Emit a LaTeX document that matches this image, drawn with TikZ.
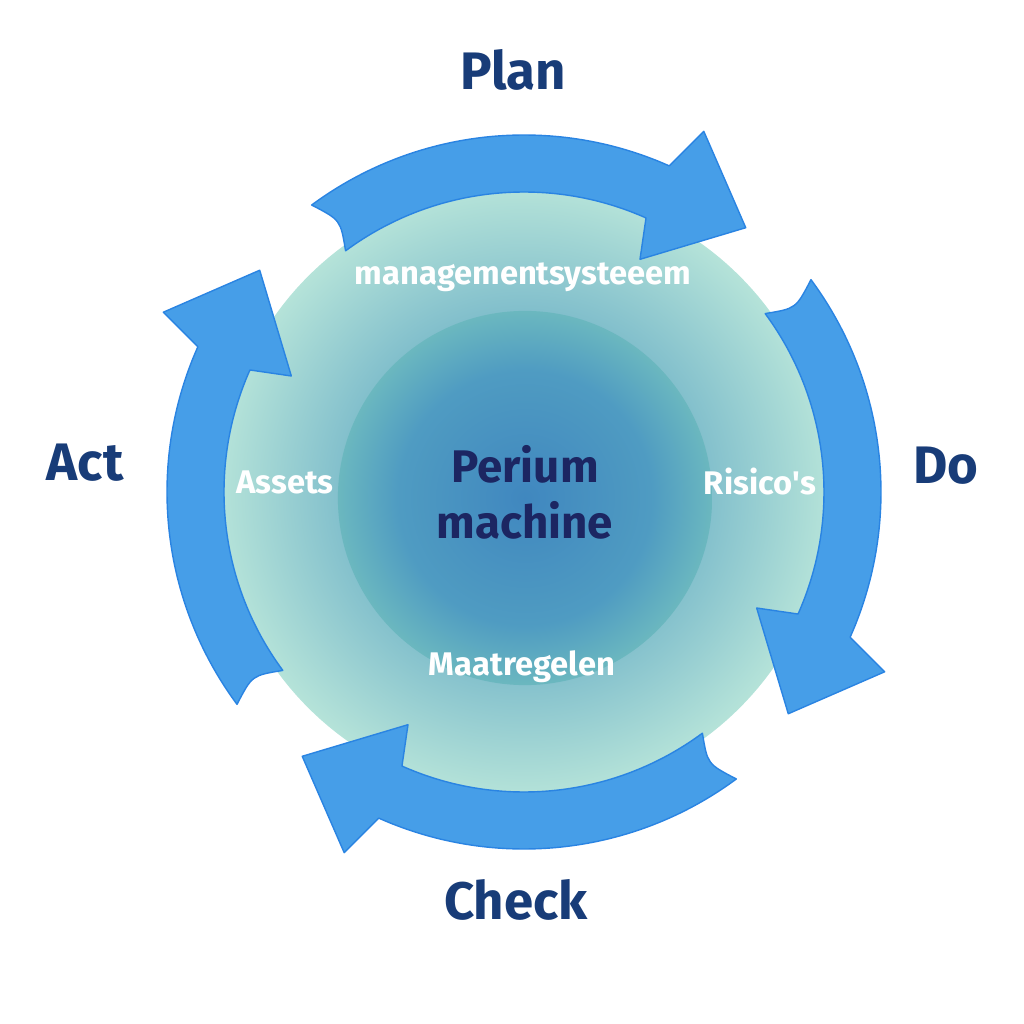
\documentclass[tikz,border=0pt]{standalone}
\usepackage{fontspec}
\setmainfont{Fira Sans}
\usepackage{tikz}

\definecolor{bandblue}{RGB}{70,158,232}
\definecolor{bandedge}{RGB}{42,132,226}
\definecolor{phase}{RGB}{24,60,120}
\definecolor{core}{RGB}{28,38,98}
\pgfdeclareradialshading{ringglow}{\pgfpoint{0bp}{0bp}}{rgb(0bp)=(.33,.62,.77); rgb(15bp)=(.51,.75,.80); rgb(25bp)=(.71,.89,.85); rgb(50bp)=(.71,.89,.85)}
\pgfdeclareradialshading{coreglow}{\pgfpoint{0bp}{0bp}}{rgb(0bp)=(.25,.53,.75); rgb(17bp)=(.31,.61,.76); rgb(25bp)=(.42,.72,.75); rgb(50bp)=(.42,.72,.75)}

\begin{document}
\begin{tikzpicture}[x=0.01cm,y=0.01cm]
	\tikzstyle{disc}=[circle,inner sep=0pt]
	\tikzstyle{band}=[fill=bandblue,draw=bandedge,line width=0.4pt,line join=round]
	\tikzstyle{phaselabel}=[text=phase,font=\fontsize{15}{18}\selectfont\bfseries]
	\tikzstyle{itemlabel}=[text=white,font=\fontsize{9.3}{11}\selectfont\bfseries]
	\tikzstyle{corelabel}=[text=core,align=center,font=\fontsize{13}{16}\selectfont\bfseries]
	\useasboundingbox (-524,-532) rectangle (500,492);
	\node (ring) at (0,0) [disc,minimum size=6.1cm,shading=ringglow] {};
	\node (core) at (1,-6) [disc,minimum size=3.74cm,shading=coreglow] {};
	% Plan -> Do -> Check -> Act
	\draw [band] (126.5:357) arc (126.5:66:357) -- (63.5:403) -- (50:345) -- (63.5:260) -- (66:300)
		arc (66:126.5:300) .. controls (124:328) .. cycle;
	\draw [band,rotate=-90] (126.5:357) arc (126.5:66:357) -- (63.5:403) -- (50:345) -- (63.5:260) -- (66:300)
		arc (66:126.5:300) .. controls (124:328) .. cycle;
	\draw [band,rotate=-180] (126.5:357) arc (126.5:66:357) -- (63.5:403) -- (50:345) -- (63.5:260) -- (66:300)
		arc (66:126.5:300) .. controls (124:328) .. cycle;
	\draw [band,rotate=-270] (126.5:357) arc (126.5:66:357) -- (63.5:403) -- (50:345) -- (63.5:260) -- (66:300)
		arc (66:126.5:300) .. controls (124:328) .. cycle;
	\node (plan)  at (-11,422)  [phaselabel] {Plan};
	\node (do)    at (422,26)   [phaselabel] {Do};
	\node (check) at (-8,-408)  [phaselabel] {Check};
	\node (act)   at (-439,29)  [phaselabel] {Act};
	\node (machine) at (1,0) [corelabel] {Perium\\machine};
	\node (system)  at (-1,215)   [itemlabel] {managementsysteeem};
	\node (assets)  at (-239,10)  [itemlabel] {Assets};
	\node (risks)   at (236,10)   [itemlabel] {Risico\textquotesingle s};
	\node (measures) at (-2,-175) [itemlabel] {Maatregelen};
\end{tikzpicture}
\end{document}
